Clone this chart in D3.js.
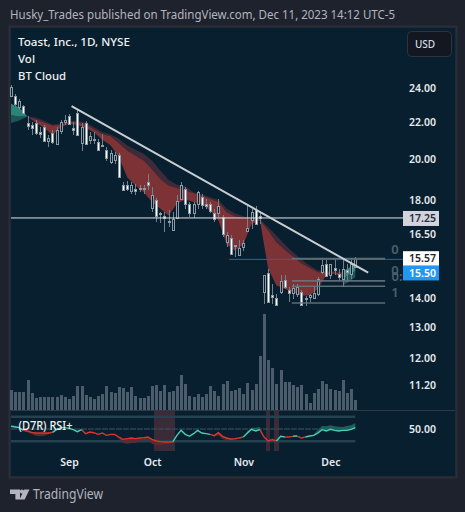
<!DOCTYPE html>
<html>
<head>
<meta charset="utf-8">
<script src="https://cdn.jsdelivr.net/npm/d3@7"></script>
<style>
  html, body { margin: 0; padding: 0; background: #1e222d; overflow: hidden; }
  text { font-family: "Noto Sans", "Open Sans", sans-serif; }
</style>
</head>
<body>
<div id="chart"></div>
<script>
// daily bars
const open = [23.55,23.51,22.88,22.93,21.93,21.87,21.93,21.44,21.72,20.95,21.41,20.82,21.54,22.03,22.37,21.69,22.55,20.85,21.93,21.03,21.03,20.9,20.76,20.46,19.86,19.97,20.2,18.72,18.74,18.43,18.52,18.58,18.55,18.85,17.65,18.03,17.41,17.28,17.07,16.72,17.22,18.08,18.52,17.82,17.45,17.82,18.14,17.82,17.82,17.41,17.41,17.25,16.17,16.35,16.07,15.64,15.96,16.63,17.1,17.57,17.29,14.22,14.95,14.12,14.01,14.23,14.69,14.31,14.19,14.19,14.22,14.0,14.07,14.01,14.14,14.95,15.3,14.85,15.13,14.92,14.72,15.07,14.92,15.19];
const high = [24.19,23.67,23.37,23.0,22.33,22.0,22.1,21.75,21.82,21.27,21.54,21.72,22.14,22.39,22.49,22.0,22.72,21.93,22.06,21.44,21.44,21.09,21.35,20.64,20.46,20.37,20.32,18.86,18.94,18.86,18.78,18.74,18.74,19.27,18.61,18.12,17.46,17.46,17.54,17.46,18.23,18.86,18.61,17.92,17.92,18.46,18.31,18.07,17.92,17.62,18.07,17.32,16.59,16.45,16.07,16.24,16.27,17.77,17.62,17.72,17.46,14.85,15.1,14.53,14.16,14.85,14.85,14.4,14.53,14.53,14.29,14.1,14.16,14.4,14.78,15.51,15.43,15.3,15.51,15.1,15.47,15.3,15.51,15.57];
const low = [23.46,22.91,22.68,22.49,21.54,21.27,21.27,21.13,20.89,20.64,20.82,20.73,21.35,21.82,21.82,21.27,21.27,20.42,20.73,20.79,20.82,20.46,20.69,19.94,19.77,19.77,19.05,18.43,18.43,18.31,18.23,18.38,18.31,18.49,17.46,17.02,16.97,16.59,16.82,16.72,17.18,18.0,17.62,17.25,17.22,17.62,17.62,17.62,17.41,17.02,17.25,16.37,15.96,15.63,15.55,15.59,15.8,16.59,16.74,16.88,16.94,13.81,13.83,13.78,13.75,14.16,14.35,13.86,13.98,14.04,13.75,13.71,13.86,13.98,14.1,14.92,14.78,14.72,14.85,14.66,14.4,14.6,14.72,15.14];
const close = [24.08,23.03,23.22,22.55,21.75,21.72,21.4,21.35,20.93,21.13,20.93,21.58,22.03,22.14,21.93,21.58,21.31,21.75,20.76,21.23,21.09,20.5,20.72,20.03,20.35,20.23,19.09,18.49,18.55,18.74,18.41,18.55,18.58,18.69,18.27,17.32,17.35,17.19,17.03,17.18,17.97,18.74,17.81,17.41,17.85,18.38,17.77,17.74,17.51,17.13,17.72,16.52,16.45,15.7,16.01,15.94,16.14,16.78,17.45,16.97,17.22,14.85,13.86,14.04,13.77,14.63,14.43,14.19,14.37,14.43,13.77,13.98,14.13,14.2,14.7,15.23,14.82,15.27,15.04,14.82,15.1,14.99,15.3,15.5];
const volume = [6.0,5.4,5.4,5.4,9.0,5.1,3.6,3.9,3.9,3.9,3.9,3.9,4.5,3.9,3.3,4.2,7.2,7.2,4.5,3.9,3.3,4.2,4.8,7.2,5.4,5.1,6.9,6.6,5.4,6.9,4.2,3.6,3.6,4.2,7.2,7.5,5.7,7.5,5.4,5.7,7.2,10.5,7.8,4.1,3.9,4.8,3.9,4.8,7.2,5.7,4.2,7.8,8.7,5.7,6.0,6.6,4.8,8.1,6.0,7.8,16.2,28.8,15.0,12.6,7.8,12.0,8.4,8.4,7.5,6.9,7.5,4.8,2.1,5.1,6.3,8.7,7.8,6.3,6.0,5.7,9.0,5.1,6.3,3.0];

// BT Cloud, sampled every other bar
const cloudBar = [0,2,4,6,8,10,12,14,16,18,20,22,24,26,28,30,32,34,36,38,40,42,44,46,48,50,52,54,56,58,60,62,64,66,68,70,72,74,76,78,80,80,82,83];
const cloudFast = [23.07,22.85,22.33,21.97,21.69,21.27,21.72,21.91,21.84,21.67,21.44,21.03,20.73,20.11,19.1,18.7,18.38,17.92,17.62,17.32,17.85,18.04,17.92,17.82,17.54,17.1,16.07,15.83,16.07,16.94,17.1,15.1,14.47,14.35,14.22,14.1,14.1,14.35,14.85,14.92,14.76,15.01,15.19,15.3];
const cloudMid = [22.39,22.33,22.33,22.16,21.99,21.82,21.86,22.02,21.99,21.88,21.6,21.35,21.22,20.85,20.46,20.2,19.94,19.5,19.02,18.7,18.58,18.46,18.35,18.23,18.07,17.92,17.46,17.28,17.22,17.18,17.13,16.66,16.17,15.86,15.59,15.32,15.14,14.97,14.97,14.97,14.92,14.72,14.92,15.01];
const cloudSlow = [21.95,22.1,22.33,22.26,22.08,21.86,21.93,22.07,22.08,21.99,21.72,21.46,21.31,21.09,20.73,20.5,20.29,19.94,19.44,18.98,18.74,18.67,18.38,18.27,18.15,18.03,17.62,17.41,17.28,17.22,17.15,16.8,16.45,16.07,15.76,15.47,15.23,15.04,15.01,15.01,14.97,14.47,14.66,14.78];

// RSI+ pane
const rsi = [54.3,53.3,52.2,47.8,46.7,44.6,43.5,43.5,43.5,43.5,44.6,48.9,52.2,52.2,51.1,48.9,45.7,48.9,42.4,45.1,44.0,41.3,43.5,39.7,41.3,41.3,37.0,33.2,34.3,35.4,34.3,35.4,35.9,37.0,33.2,30.5,29.4,28.9,28.9,28.9,39.7,47.8,41.3,38.1,42.4,47.8,43.5,42.4,41.3,39.2,44.0,38.1,35.4,33.7,34.3,35.4,37.0,43.5,49.5,46.7,48.9,37.0,30.5,32.6,30.5,38.1,37.0,37.0,38.1,38.6,35.4,37.0,38.6,39.7,43.5,48.9,46.7,49.5,47.8,46.7,47.8,47.8,49.5,52.2];
const rsiBand = [56.5,55.4,53.3,46.7,44.6,41.3,39.2,38.1,39.2,41.3,43.5,48.9,52.2,52.2,51.1,48.9,44.6,47.8,41.3,44.0,42.9,40.2,42.4,38.6,40.2,40.2,34.3,27.2,26.2,27.2,27.2,29.9,31.6,32.7,26.2,23.4,23.4,25.1,26.2,28.9,39.7,47.8,41.3,38.1,42.4,47.8,43.5,42.4,41.3,38.1,39.7,34.3,31.6,31.6,32.7,33.7,36.4,46.7,52.2,52.2,53.3,37.0,32.7,34.8,32.7,38.1,37.0,37.0,38.1,38.6,35.4,37.0,38.6,41.3,48.9,54.9,54.3,56.0,54.3,53.8,53.3,54.9,56.0,59.8];
const rsiUpRuns = [[0,3],[10,17],[39,48],[56,60],[64,66],[68,69],[71,83]];
const rsiDownRuns = [[3,10],[17,39],[48,56],[60,64],[66,68],[69,71]];
const rsiLevels = [70, 30];

const priceTicks = [24, 22, 20, 18, 16.5, 14, 13, 12, 11.2];
const monthBars = [14, 34, 56, 77];
const monthNames = ["Sep", "Oct", "Nov", "Dec"];

const trendBars = [14.6, 86.1];
const trendPrices = [22.93, 14.95];
const hLinePrice = 17.25;
const lastPrice = 15.5;
const fibPrices = [15.5, 14.64, 14.44, 13.83];

const width = 465, height = 512;
const pane = { left: 11, right: 455, top: 28, bottom: 476 };
const axisX = 403;

const bg = "#071f2e", frame = "#2a2e39";
const wickCol = "#708290", bodyLine = "#8b9aa5";
const volCol = "#4b5d6c";

const svg = d3.select("#chart").append("svg")
  .attr("width", width).attr("height", height)
  .style("display", "block");

svg.append("rect").attr("x", pane.left).attr("y", pane.top)
  .attr("width", pane.right - pane.left).attr("height", pane.bottom - pane.top)
  .attr("fill", bg);
svg.append("rect").attr("x", pane.left - 1.5).attr("y", pane.top - 1.5)
  .attr("width", pane.right - pane.left + 3).attr("height", pane.bottom - pane.top + 3)
  .attr("fill", "none").attr("stroke", frame).attr("stroke-width", 2);

const x = d3.scaleLinear().domain([0, 83]).range([11, 355.3]);
const y = d3.scaleLog().domain([24, 14]).range([88.3, 298.3]);
const yVol = d3.scaleLinear().domain([0, 28.8]).range([410, 314]);
const yRsi = d3.scaleLinear().domain([30, 70]).range([441.3, 416.7]);

// cloud
const cloud = cloudBar.map((b, i) => ({ b, fast: cloudFast[i], mid: cloudMid[i], slow: cloudSlow[i] }));
function cloudArea(a, b, keep) {
  return d3.area().defined(keep).curve(d3.curveLinear)
    .x(d => x(d.b)).y0(d => y(d[a])).y1(d => y(d[b]))(cloud);
}
const isBull = d => d.fast >= d.slow, isBear = d => d.fast <= d.slow;
svg.append("path").attr("d", cloudArea("mid", "slow", isBear)).attr("fill", "#3e2a38");
svg.append("path").attr("d", cloudArea("fast", "mid", isBear)).attr("fill", "#7d3236");
svg.append("path").attr("d", cloudArea("mid", "slow", isBull)).attr("fill", "#1b5459");
svg.append("path").attr("d", cloudArea("fast", "mid", isBull)).attr("fill", "#2a8577");

// candles
const candles = svg.append("g").selectAll("g").data(open).join("g");
candles.append("line").attr("shape-rendering", "crispEdges")
  .attr("x1", (d, i) => Math.round(x(i)) + 0.5).attr("x2", (d, i) => Math.round(x(i)) + 0.5)
  .attr("y1", (d, i) => y(high[i])).attr("y2", (d, i) => y(low[i]))
  .attr("stroke", wickCol);
candles.append("rect").attr("shape-rendering", "crispEdges")
  .attr("x", (d, i) => Math.round(x(i)) - 0.5).attr("width", 2)
  .attr("y", (d, i) => Math.round(y(Math.max(open[i], close[i]))) + 0.5)
  .attr("height", (d, i) => Math.max(1, Math.round(Math.abs(y(open[i]) - y(close[i])))))
  .attr("fill", (d, i) => close[i] >= open[i] ? bg : "#ffffff")
  .attr("stroke", bodyLine);

// horizontal levels
svg.append("line").attr("x1", pane.left).attr("x2", axisX)
  .attr("y1", y(hLinePrice) + 1).attr("y2", y(hLinePrice) + 1)
  .attr("stroke", "#e4e6ea").attr("stroke-width", 1);
svg.append("line").attr("x1", x(52.6)).attr("x2", axisX)
  .attr("y1", y(lastPrice) + 0.7).attr("y2", y(lastPrice) + 0.7)
  .attr("stroke", "#23699f").attr("stroke-width", 1);

// fib
svg.append("g").selectAll("line").data(fibPrices).join("line")
  .attr("x1", x(67.7)).attr("x2", x(90.2))
  .attr("y1", d => y(d)).attr("y2", d => y(d))
  .attr("stroke", "#67757f").attr("stroke-width", 1.6).attr("opacity", 0.9);
svg.append("g").selectAll("text").data([["0", 395, 253.5], ["0", 395, 274.5], ["0:", 397, 280.5], ["1", 395, 296.5]]).join("text")
  .attr("x", d => d[1]).attr("y", d => d[2])
  .attr("text-anchor", "middle").attr("font-size", 13).attr("font-weight", 600)
  .attr("fill", "#4c606e").text(d => d[0]);

// trend line
svg.append("line")
  .attr("x1", x(trendBars[0])).attr("y1", y(trendPrices[0]))
  .attr("x2", x(trendBars[1])).attr("y2", y(trendPrices[1]))
  .attr("stroke", "#c9ced3").attr("stroke-width", 2);

// volume
svg.append("g").selectAll("rect").data(volume).join("rect")
  .attr("shape-rendering", "crispEdges")
  .attr("x", (d, i) => Math.round(x(i)) - 1).attr("width", 3)
  .attr("y", d => yVol(d)).attr("height", d => yVol(0) - yVol(d))
  .attr("fill", volCol);
svg.append("line").attr("x1", pane.left).attr("x2", pane.right)
  .attr("y1", 410.5).attr("y2", 410.5).attr("stroke", "#343843");

// RSI pane
const rsiPts = rsi.map((v, i) => ({ i, v, band: rsiBand[i] }));
const lowBars = rsiPts.filter(d => d.v <= 31);
svg.append("g").selectAll("rect").data(lowBars).join("rect")
  .attr("shape-rendering", "crispEdges")
  .attr("x", d => x(d.i) - 2.07).attr("width", 4.14)
  .attr("y", 411).attr("height", 40)
  .attr("fill", "#3b2a37");
svg.append("g").selectAll("line").data(rsiLevels).join("line")
  .attr("x1", pane.left).attr("x2", x(83))
  .attr("y1", d => yRsi(d)).attr("y2", d => yRsi(d))
  .attr("stroke", "#264150").attr("stroke-width", 2.6);
svg.append("line").attr("x1", pane.left).attr("x2", x(83))
  .attr("y1", yRsi(50)).attr("y2", yRsi(50))
  .attr("stroke", "#3f5561").attr("stroke-dasharray", "6 1");

const bandArea = d3.area().x(d => x(d.i)).y0(d => yRsi(d.v)).y1(d => yRsi(d.band));
const rsiLine = d3.line().x(d => x(d.i)).y(d => yRsi(d.v));
function drawRuns(runs, bandCol, lineCol) {
  runs.forEach(r => {
    const pts = rsiPts.slice(r[0], r[1] + 1);
    svg.append("path").attr("d", bandArea(pts)).attr("fill", bandCol);
    svg.append("path").attr("d", rsiLine(pts)).attr("fill", "none")
      .attr("stroke", lineCol).attr("stroke-width", 1.4);
  });
}
drawRuns(rsiDownRuns, "#5a2c32", "#d8352c");
drawRuns(rsiUpRuns, "#1d5f5f", "#45d1b2");

// axes
const priceAxis = d3.axisRight(y).tickValues(priceTicks).tickSize(0).tickPadding(0).tickFormat(d3.format(".2f"));
const gPrice = svg.append("g").attr("transform", "translate(409,0)").call(priceAxis);
gPrice.select(".domain").remove();
gPrice.selectAll("text").attr("fill", "#e8eaee").attr("font-size", 10.5).attr("font-weight", 600)
  .style("font-family", '"Noto Sans", sans-serif');

const rsiAxis = d3.axisRight(yRsi).tickValues([50]).tickSize(0).tickPadding(0).tickFormat(d3.format(".2f"));
const gRsi = svg.append("g").attr("transform", "translate(409,0)").call(rsiAxis);
gRsi.select(".domain").remove();
gRsi.selectAll("text").attr("fill", "#e8eaee").attr("font-size", 10.5).attr("font-weight", 600)
  .style("font-family", '"Noto Sans", sans-serif');

const timeAxis = d3.axisBottom(x).tickValues(monthBars).tickSize(0).tickPadding(0)
  .tickFormat((d, i) => monthNames[i]);
const gTime = svg.append("g").attr("transform", "translate(0,459)").call(timeAxis);
gTime.select(".domain").remove();
gTime.selectAll("text").attr("fill", "#e8eaee").attr("font-size", 10.5).attr("font-weight", 600)
  .style("font-family", '"Noto Sans", sans-serif');

// price tags
function tag(txt, cy, fill, col) {
  svg.append("rect").attr("x", axisX).attr("y", cy - 7.5).attr("width", 36).attr("height", 15).attr("fill", fill);
  svg.append("text").attr("x", 409).attr("y", cy + 3.8).attr("font-size", 10.5).attr("font-weight", 600)
    .attr("fill", col).text(txt);
}
tag("17.25", y(17.25) + 1.5, "#d1d4dc", "#2a2e39");
tag("15.57", y(15.57) + 1.8, "#ffffff", "#1e222d");
tag("15.50", y(15.5) + 14.3, "#2196f3", "#ffffff");

// legend and header
svg.append("text").attr("x", 10).attr("y", 19).attr("font-size", 12).attr("fill", "#b2b5be")
  .attr("textLength", 385).attr("lengthAdjust", "spacingAndGlyphs")
  .text("Husky_Trades published on TradingView.com, Dec 11, 2023 14:12 UTC-5");
[["Toast, Inc., 1D, NYSE", 46, 112], ["Vol", 63, 17], ["BT Cloud", 80, 48]].forEach(l => {
  svg.append("text").attr("x", 18).attr("y", l[1]).attr("font-size", 11.5).attr("font-weight", 500)
    .attr("fill", "#f0f1f3").attr("textLength", l[2]).attr("lengthAdjust", "spacingAndGlyphs").text(l[0]);
});
svg.append("text").attr("x", 18.5).attr("y", 430).attr("font-size", 13).attr("font-weight", 500)
  .attr("fill", "#eef0f2").attr("textLength", 54).attr("lengthAdjust", "spacingAndGlyphs").text("(D7R) RSI+");

svg.append("rect").attr("x", 407.5).attr("y", 31.5).attr("width", 44).attr("height", 25).attr("rx", 4)
  .attr("fill", "#131722").attr("stroke", "#2f333e");
svg.append("text").attr("x", 425).attr("y", 48).attr("text-anchor", "middle").attr("font-size", 10)
  .attr("font-weight", 500).attr("fill", "#d8dae0").text("USD");

// logo
svg.append("path").attr("d", "M10 489.5h10v10h-4.6v-5.6H10z M29.5 489.5l-4.8 10h-5.2l4.8-10z").attr("fill", "#b2b5be");
svg.append("circle").attr("cx", 22).attr("cy", 491.6).attr("r", 2.1).attr("fill", "#b2b5be");
svg.append("text").attr("x", 33).attr("y", 499).attr("font-size", 14).attr("fill", "#b2b5be")
  .attr("textLength", 70).attr("lengthAdjust", "spacingAndGlyphs").text("TradingView");
</script>
</body>
</html>
